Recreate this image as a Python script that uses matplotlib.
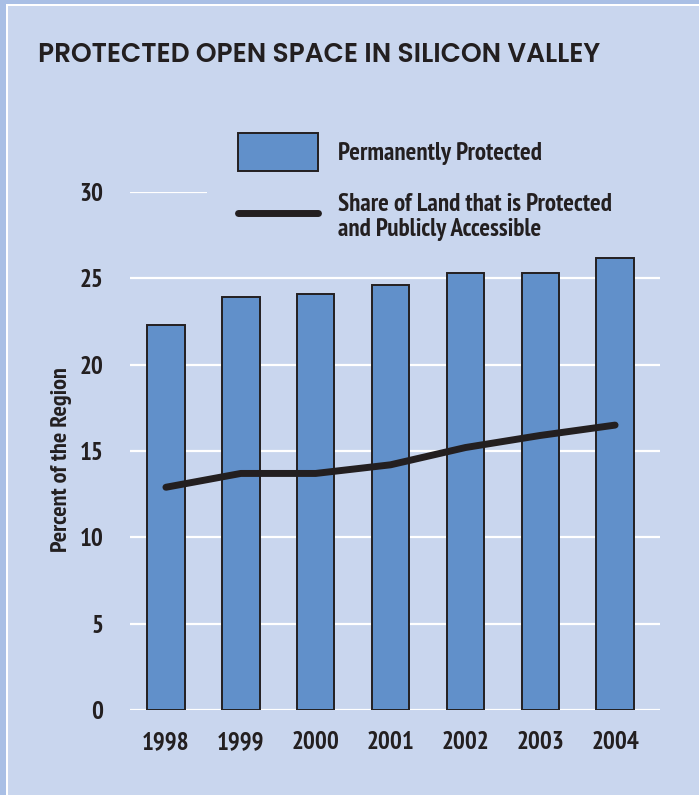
import matplotlib
matplotlib.use("Agg")
import matplotlib.pyplot as plt
from matplotlib.patches import Rectangle, Patch
from matplotlib.lines import Line2D

# data
years = ["1998", "1999", "2000", "2001", "2002", "2003", "2004"]
permanently_protected = [22.3, 23.9, 24.1, 24.6, 25.3, 25.3, 26.2]
public_access = [12.9, 13.7, 13.7, 14.2, 15.2, 15.9, 16.5]
y_ticks = [0, 5, 10, 15, 20, 25, 30]
series_names = ["Permanently Protected",
                "Share of Land that is Protected\nand Publicly Accessible"]
title = "PROTECTED OPEN SPACE IN SILICON VALLEY"

bg = "#c9d6ee"
outer = "#a9bfe5"
bar_color = "#6190ca"
dark = "#231f20"
narrow = ["PT Sans Narrow", "DejaVu Sans"]

fig = plt.figure(figsize=(6.99, 7.95), dpi=100, facecolor=outer)
W, H = 699, 795
# white rule and light panel
fig.patches.append(Rectangle((6 / W, 0), 1, 1 - 4 / H, transform=fig.transFigure,
                             facecolor="white", edgecolor="none", zorder=-2))
fig.patches.append(Rectangle((8 / W, 0), 1, 1 - 6 / H, transform=fig.transFigure,
                             facecolor=bg, edgecolor="none", zorder=-1))

ax = fig.add_axes([130 / W, 1 - 710 / H, 530 / W, 518 / H])
ax.set_facecolor("none")
x = list(range(len(years)))

for t in y_ticks:
    ax.axhline(t, color="white", lw=1.6, zorder=1)

ax.bar(x, permanently_protected, width=0.5, color=bar_color,
       edgecolor=dark, linewidth=1.4, zorder=2)
ax.plot(x, public_access, color=dark, lw=5, solid_capstyle="round", zorder=3)

ax.set_xlim(-0.48, 6.6)
ax.set_ylim(0, 30)
ax.set_xticks(x)
ax.set_xticklabels(years)
ax.set_yticks(y_ticks)
for s in ax.spines.values():
    s.set_visible(False)
ax.tick_params(length=0)
ax.tick_params(axis="y", pad=19)
ax.tick_params(axis="x", pad=15)
for lab in ax.get_xticklabels() + ax.get_yticklabels():
    lab.set_family(narrow)
    lab.set_fontweight("bold")
    lab.set_fontsize(18)
    lab.set_color(dark)

ax.set_ylabel("Percent of the Region", family=narrow, fontweight="bold",
              fontsize=17.5, color=dark)
ax.yaxis.set_label_coords(-0.11, 0.483)

fig.text(38 / W, 1 - 55 / H, title,
         family=["Poppins", "DejaVu Sans"], fontweight="semibold", fontsize=19,
         color=dark, va="center", ha="left")

handles = [
    Patch(facecolor=bar_color, edgecolor=dark, linewidth=1.4),
    Line2D([0], [0], color=dark, lw=5, solid_capstyle="round"),
]
# legend sits behind the bars but hides the top grid line, as in the original
leg = ax.legend(handles, series_names, loc="upper left",
                bbox_to_anchor=(207 / W, 1 - 300 / H, (672 - 207) / W, 198 / H),
                bbox_transform=fig.transFigure, mode="expand",
                prop={"family": narrow, "weight": "bold", "size": 18},
                frameon=True, facecolor=bg, edgecolor="none", framealpha=1,
                fancybox=False, borderpad=1.25, borderaxespad=0,
                handlelength=3.2, handleheight=1.95, handletextpad=0.8,
                labelspacing=0.88)
leg.set_zorder(1.5)
for t in leg.get_texts():
    t.set_color(dark)
    t.set_linespacing(1.1)

fig.savefig("out.png", dpi=100, facecolor=outer)
